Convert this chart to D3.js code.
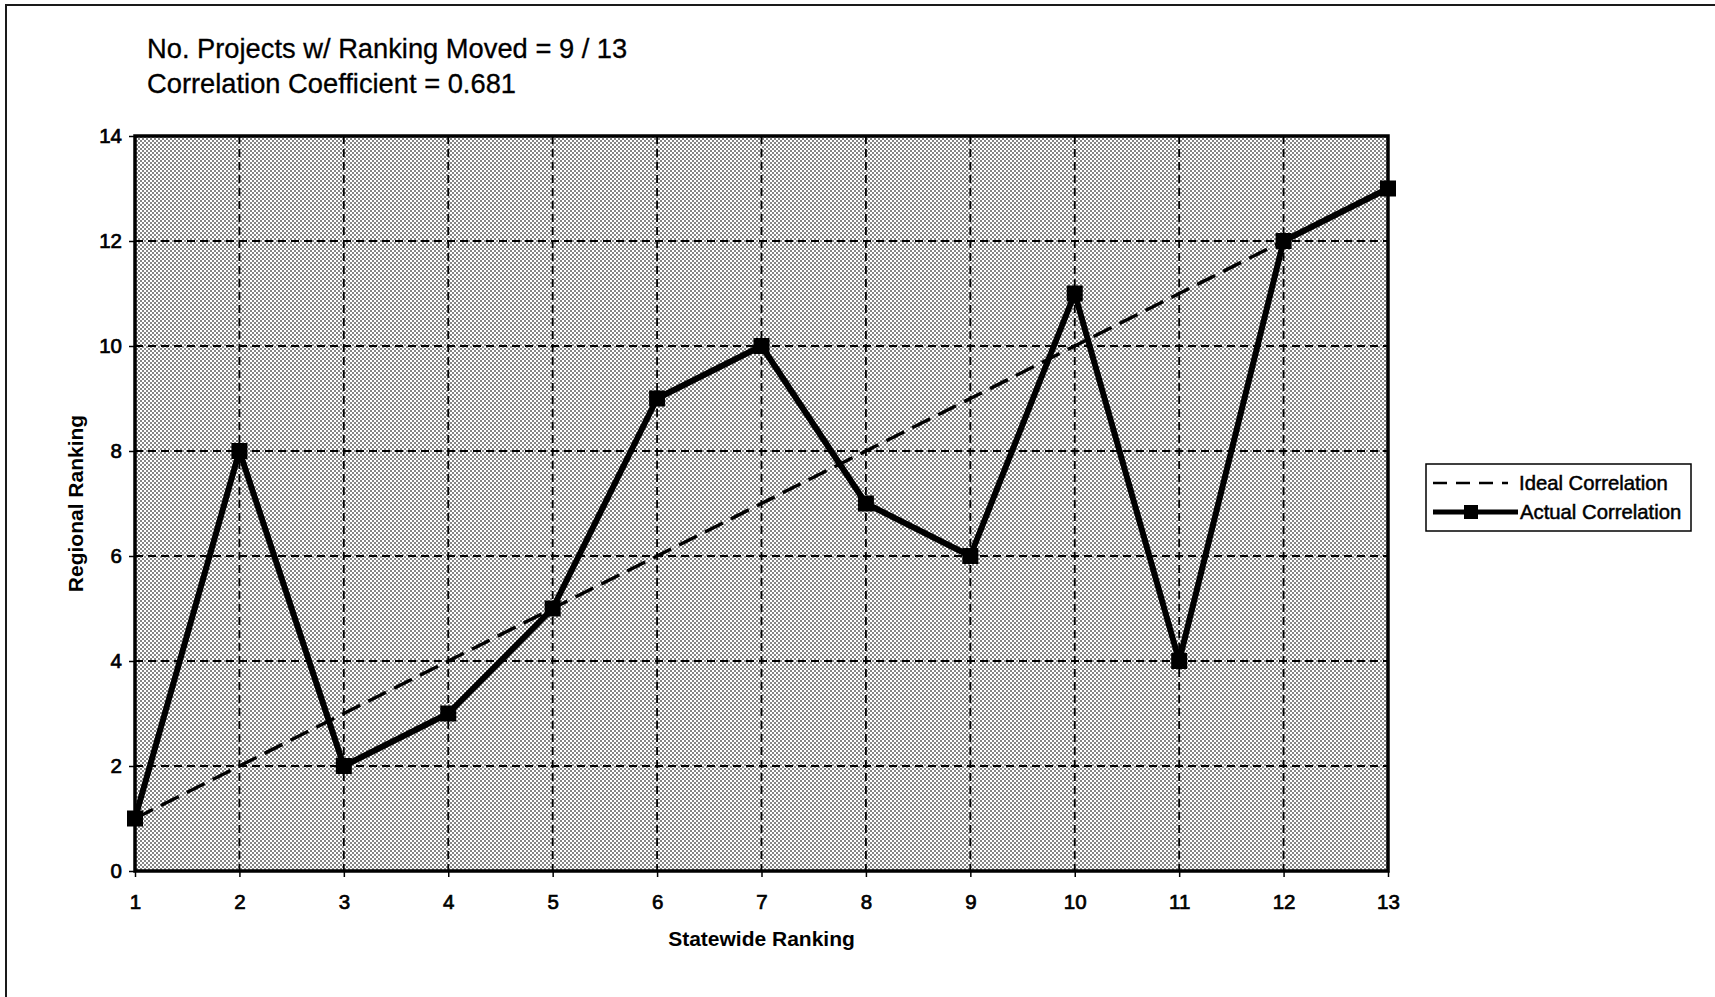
<!DOCTYPE html>
<html>
<head>
<meta charset="utf-8">
<script src="https://cdn.jsdelivr.net/npm/d3@7/dist/d3.min.js"></script>
<style>
  html, body { margin: 0; padding: 0; background: #fff; }
  svg { display: block; }
  text { font-family: Arial, "Liberation Sans", sans-serif; fill: #000; }
</style>
</head>
<body>
<svg id="chart" width="1715" height="997"></svg>
<script>
// Statewide vs. regional ranking of the 13 projects
const statewideRank = [1, 2, 3, 4, 5, 6, 7, 8, 9, 10, 11, 12, 13];
const regionalRank  = [1, 8, 2, 3, 5, 9, 10, 7, 6, 11, 4, 12, 13];
const idealRank     = [1, 2, 3, 4, 5, 6, 7, 8, 9, 10, 11, 12, 13];

const xTicks = [1, 2, 3, 4, 5, 6, 7, 8, 9, 10, 11, 12, 13];
const yTicks = [0, 2, 4, 6, 8, 10, 12, 14];

const headerLines = [
  "No. Projects w/ Ranking Moved = 9 / 13",
  "Correlation Coefficient = 0.681"
];
const xTitle = "Statewide Ranking";
const yTitle = "Regional Ranking";
const seriesNames = ["Ideal Correlation", "Actual Correlation"];

const svg = d3.select("#chart");

const x = d3.scaleLinear().domain([1, 13]).range([135, 1388]);
const y = d3.scaleLinear().domain([0, 14]).range([871, 136]);

// halftone-style fill for the plot area
const defs = svg.append("defs");
const pat = defs.append("pattern")
  .attr("id", "dots").attr("patternUnits", "userSpaceOnUse")
  .attr("width", 4).attr("height", 4);
pat.append("rect").attr("width", 4).attr("height", 4).attr("fill", "#fff");
pat.append("rect").attr("x", 0).attr("y", 0).attr("width", 2).attr("height", 2).attr("fill", "#858585");
pat.append("rect").attr("x", 2).attr("y", 2).attr("width", 2).attr("height", 2).attr("fill", "#858585");

// outer frame
svg.append("rect")
  .attr("x", 6).attr("y", 5).attr("width", 1760).attr("height", 1040)
  .attr("fill", "none").attr("stroke", "#1a1a1a").attr("stroke-width", 2);

// header
svg.append("g").selectAll("text").data(headerLines).join("text")
  .attr("x", 147).attr("y", (d, i) => 58 + i * 35)
  .attr("font-size", 27.3)
  .attr("stroke", "#000").attr("stroke-width", 0.3)
  .text(d => d);

const [x0, x1] = x.range();
const [yb, yt] = y.range();

// plot background
svg.append("rect")
  .attr("x", x0).attr("y", yt).attr("width", x1 - x0).attr("height", yb - yt)
  .attr("fill", "url(#dots)");

// gridlines
const grid = svg.append("g").attr("stroke", "#000").attr("stroke-width", 1.8)
  .attr("stroke-dasharray", "8,5");
grid.selectAll("line.v").data(xTicks.filter(d => d > 1 && d < 13)).join("line")
  .attr("class", "v")
  .attr("x1", d => x(d)).attr("x2", d => x(d)).attr("y1", yt).attr("y2", yb);
grid.selectAll("line.h").data(yTicks.filter(d => d > 0 && d < 14)).join("line")
  .attr("class", "h")
  .attr("x1", x0).attr("x2", x1).attr("y1", d => y(d)).attr("y2", d => y(d));

const line = d3.line().x(d => x(d[0])).y(d => y(d[1]));

// ideal correlation
svg.append("path")
  .datum(d3.zip(statewideRank, idealRank))
  .attr("d", line)
  .attr("fill", "none").attr("stroke", "#000").attr("stroke-width", 3.4)
  .attr("stroke-dasharray", "20,9");

// actual correlation
const actual = d3.zip(statewideRank, regionalRank);
svg.append("path")
  .datum(actual)
  .attr("d", line)
  .attr("fill", "none").attr("stroke", "#000").attr("stroke-width", 6)
  .attr("stroke-linejoin", "round");

const mk = 16;
svg.append("g").selectAll("rect").data(actual).join("rect")
  .attr("x", d => x(d[0]) - mk / 2).attr("y", d => y(d[1]) - mk / 2)
  .attr("width", mk).attr("height", mk).attr("fill", "#000");

// plot border
svg.append("rect")
  .attr("x", x0).attr("y", yt).attr("width", x1 - x0).attr("height", yb - yt)
  .attr("fill", "none").attr("stroke", "#000").attr("stroke-width", 3.5);

// axes
const yAxis = svg.append("g").attr("transform", `translate(${x0},0)`)
  .call(d3.axisLeft(y).tickValues(yTicks).tickSize(6).tickPadding(7).tickFormat(d3.format("d")));
const xAxis = svg.append("g").attr("transform", `translate(0,${yb})`)
  .call(d3.axisBottom(x).tickValues(xTicks).tickSize(6).tickPadding(17).tickFormat(d3.format("d")));
[yAxis, xAxis].forEach(g => {
  g.select(".domain").remove();
  g.selectAll(".tick line").attr("stroke", "#000").attr("stroke-width", 1.5);
  g.selectAll(".tick text")
    .attr("font-family", "Arial, 'Liberation Sans', sans-serif")
    .attr("font-size", 20.5).attr("fill", "#000")
    .attr("stroke", "#000").attr("stroke-width", 0.7);
});

// axis titles
svg.append("text")
  .attr("x", (x0 + x1) / 2).attr("y", 946)
  .attr("text-anchor", "middle").attr("font-size", 21).attr("font-weight", "bold")
  .text(xTitle);
svg.append("text")
  .attr("transform", `translate(83,${(yt + yb) / 2}) rotate(-90)`)
  .attr("text-anchor", "middle").attr("font-size", 21).attr("font-weight", "bold")
  .text(yTitle);

// legend
const lg = svg.append("g");
lg.append("rect")
  .attr("x", 1426).attr("y", 464).attr("width", 265).attr("height", 67)
  .attr("fill", "#fff").attr("stroke", "#000").attr("stroke-width", 1.5);
lg.append("line")
  .attr("x1", 1433).attr("x2", 1508).attr("y1", 483).attr("y2", 483)
  .attr("stroke", "#000").attr("stroke-width", 2.5).attr("stroke-dasharray", "14,9");
lg.append("line")
  .attr("x1", 1433).attr("x2", 1518).attr("y1", 512).attr("y2", 512)
  .attr("stroke", "#000").attr("stroke-width", 5);
lg.append("rect")
  .attr("x", 1471 - 7).attr("y", 512 - 7).attr("width", 14).attr("height", 14).attr("fill", "#000");
lg.selectAll("text").data(seriesNames).join("text")
  .attr("x", (d, i) => i === 0 ? 1519 : 1520)
  .attr("y", (d, i) => i === 0 ? 490 : 519)
  .attr("font-size", 20.3)
  .attr("stroke", "#000").attr("stroke-width", 0.5)
  .text(d => d);
</script>
</body>
</html>
